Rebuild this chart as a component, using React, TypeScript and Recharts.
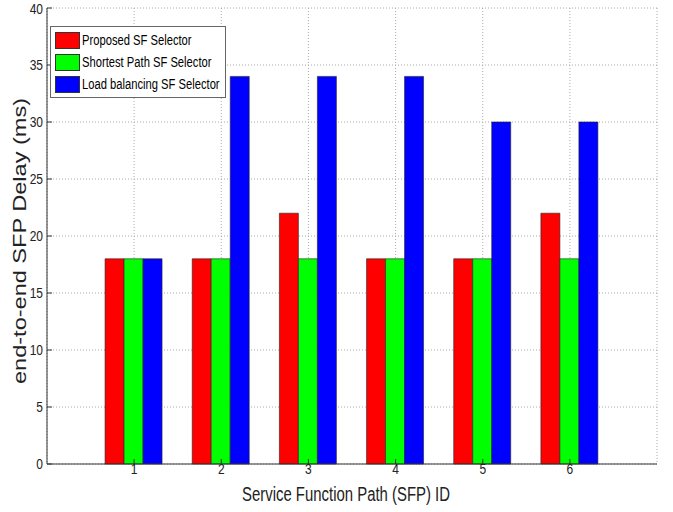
import React from "react";
import { BarChart, Bar, XAxis, YAxis, CartesianGrid } from "recharts";

// SFP IDs and delays (ms) per selector
const sfpIds = ["1", "2", "3", "4", "5", "6"];
const proposed = [18, 18, 22, 18, 18, 22];
const shortestPath = [18, 18, 18, 18, 18, 18];
const loadBalancing = [18, 34, 34, 34, 30, 30];
const yTicks = [0, 5, 10, 15, 20, 25, 30, 35, 40];

const seriesNames = [
  "Proposed SF Selector",
  "Shortest Path SF Selector",
  "Load balancing SF Selector",
];
const seriesColors = ["#ff0000", "#00ff00", "#0000ff"];

const data = sfpIds.map((id, i) => ({
  id,
  proposed: proposed[i],
  shortest: shortestPath[i],
  balancing: loadBalancing[i],
}));

const FONT = "'Liberation Sans', Arial, sans-serif";

// squeezed tick text, the figure looks horizontally compressed
const XTick = ({ x, y, payload }: any) => (
  <text x={x} y={y} dy={4} textAnchor="middle" fill="#222" fontSize={15}
    fontFamily={FONT} transform={`translate(${x},0) scale(0.8,1) translate(${-x},0)`}>
    {payload.value}
  </text>
);

const YTick = ({ x, y, payload }: any) => (
  <text x={x} y={y} dy={5} textAnchor="end" fill="#222" fontSize={15}
    fontFamily={FONT} transform={`translate(${x},0) scale(0.8,1) translate(${-x},0)`}>
    {payload.value}
  </text>
);

const XLabel = ({ viewBox }: any) => (
  <text x={viewBox.x + viewBox.width / 2 - 6} y={501} textAnchor="middle"
    fill="#222" fontSize={20} fontFamily={FONT} textLength={208}
    lengthAdjust="spacingAndGlyphs">
    Service Function Path (SFP) ID
  </text>
);

const YLabel = () => (
  <text x={26} y={241} textAnchor="middle" fill="#222" fontSize={18}
    fontFamily={FONT} textLength={286} lengthAdjust="spacingAndGlyphs"
    transform="rotate(-90, 26, 241)">
    end-to-end SFP Delay (ms)
  </text>
);

const LegendBox = () => (
  <div
    style={{
      position: "absolute",
      left: 50,
      top: 26,
      width: 170,
      height: 68,
      border: "1px solid #666",
      background: "#fff",
      fontFamily: FONT,
      fontSize: 14,
      color: "#000",
      padding: "2px 0 0 4px",
    }}
  >
    {seriesNames.map((name, i) => (
      <div key={name} style={{ display: "flex", alignItems: "center", height: 22 }}>
        <span
          style={{
            display: "inline-block",
            flex: "none",
            width: 23,
            height: 15,
            background: seriesColors[i],
            border: "1px solid #333",
            marginRight: 2,
          }}
        />
        <span style={{ display: "inline-block", whiteSpace: "nowrap",
          transform: "scaleX(0.8)", transformOrigin: "left center" }}>
          {name}
        </span>
      </div>
    ))}
  </div>
);

const App = () => {
  return (
    <div style={{ position: "absolute", left: 0, top: 0, background: "#fff" }}>
      <BarChart
        width={673}
        height={512}
        data={data}
        margin={{ top: 8, right: 16, left: 0, bottom: 0 }}
        barGap={0}
        barCategoryGap="16.7%"
      >
        <CartesianGrid stroke="#aaa" strokeDasharray="1 2" />
        <XAxis
          dataKey="id"
          padding={{ left: 43.5, right: 43.5 }}
          height={48}
          stroke="#333"
          tickSize={-5}
          tickMargin={11}
          tick={<XTick />}
          label={<XLabel />}
        />
        <XAxis
          xAxisId="top"
          dataKey="id"
          orientation="top"
          padding={{ left: 43.5, right: 43.5 }}
          height={0}
          stroke="#666"
          tickSize={-5}
          tickFormatter={() => ""}
        />
        <YAxis
          domain={[0, 40]}
          ticks={yTicks}
          width={47}
          stroke="#333"
          tickSize={-5}
          tickMargin={9}
          tick={<YTick />}
          label={<YLabel />}
        />
        <YAxis
          yAxisId="right"
          orientation="right"
          domain={[0, 40]}
          ticks={yTicks}
          width={0}
          stroke="#666"
          tickSize={-5}
          tickFormatter={() => ""}
        />
        <Bar dataKey="proposed" name={seriesNames[0]} fill={seriesColors[0]}
          stroke="#222" strokeWidth={0.6} isAnimationActive={false} />
        <Bar dataKey="shortest" name={seriesNames[1]} fill={seriesColors[1]}
          stroke="#222" strokeWidth={0.6} isAnimationActive={false} />
        <Bar dataKey="balancing" name={seriesNames[2]} fill={seriesColors[2]}
          stroke="#222" strokeWidth={0.6} isAnimationActive={false} />
      </BarChart>
      <LegendBox />
    </div>
  );
};

export default App;
